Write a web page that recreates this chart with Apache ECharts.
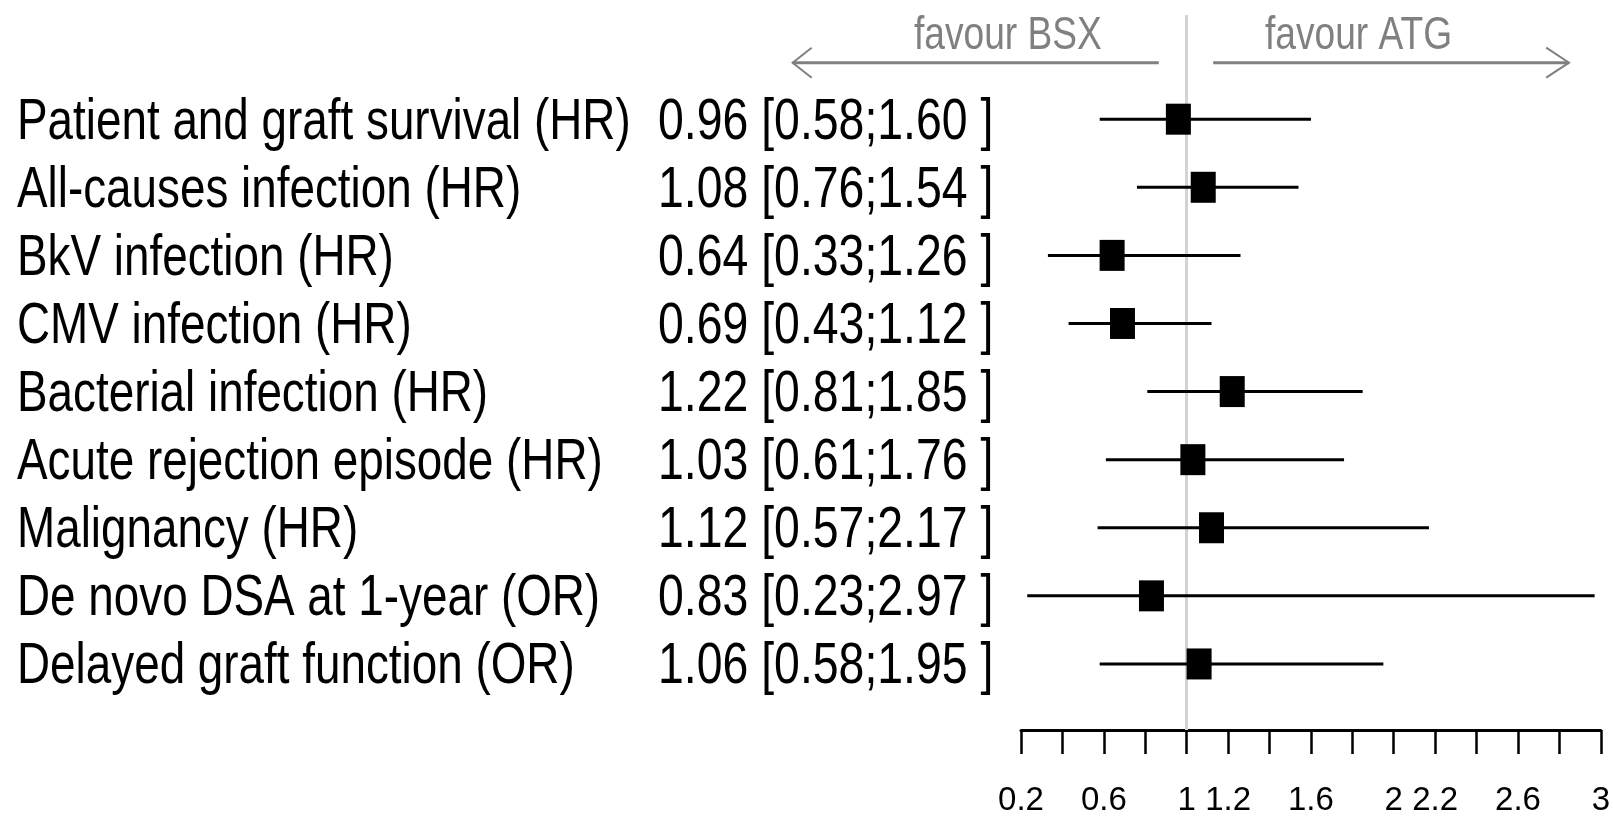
<!DOCTYPE html>
<html>
<head>
<meta charset="utf-8">
<script src="https://cdn.jsdelivr.net/npm/echarts@6/dist/echarts.min.js"></script>
<style>
  html, body { margin: 0; padding: 0; background: #ffffff; }
  #chart { width: 1613px; height: 817px; }
</style>
</head>
<body>
<div id="chart"></div>
<script>
// ---- data ----
const outcomes = [
  'Patient and graft survival (HR)',
  'All-causes infection (HR)',
  'BkV infection (HR)',
  'CMV infection (HR)',
  'Bacterial infection (HR)',
  'Acute rejection episode (HR)',
  'Malignancy (HR)',
  'De novo DSA at 1-year (OR)',
  'Delayed graft function (OR)'
];
const estimates = [0.96, 1.08, 0.64, 0.69, 1.22, 1.03, 1.12, 0.83, 1.06];
const lowerCI   = [0.58, 0.76, 0.33, 0.43, 0.81, 0.61, 0.57, 0.23, 0.58];
const upperCI   = [1.60, 1.54, 1.26, 1.12, 1.85, 1.76, 2.17, 2.97, 1.95];
const rows      = [1, 2, 3, 4, 5, 6, 7, 8, 9];
const tickLabels = ['0.2', '0.6', '1', '1.2', '1.6', '2', '2.2', '2.6', '3'];
const nullEffect = 1;
const favourLeft = 'favour BSX';
const favourRight = 'favour ATG';

// ---- styling ----
const FONT = '"Liberation Sans", Arial, sans-serif';
const SQUISH_LABEL = 0.79;
const SQUISH_EST = 0.80;
const estText = estimates.map((e, i) =>
  e.toFixed(2) + ' [' + lowerCI[i].toFixed(2) + ';' + upperCI[i].toFixed(2) + ' ]');

const chart = echarts.init(document.getElementById('chart'), null, { renderer: 'canvas' });

const option = {
  backgroundColor: '#ffffff',
  animation: false,
  grid: { left: 1021, right: 11, top: 15, bottom: 79.3, containLabel: false },
  xAxis: {
    type: 'value',
    min: 0.2, max: 3, interval: 0.2,
    splitLine: { show: false },
    axisLine: { show: true, onZero: false, lineStyle: { color: '#000', width: 3 } },
    axisTick: { show: true, length: 24, lineStyle: { color: '#000', width: 2.5 } },
    axisLabel: {
      show: true, margin: 54, color: '#000', fontSize: 33, fontFamily: FONT,
      showMinLabel: true, showMaxLabel: true, hideOverlap: false,
      formatter: function (v) {
        const s = String(Math.round(v * 10) / 10);
        return tickLabels.indexOf(s) >= 0 ? s : '';
      }
    }
  },
  yAxis: {
    type: 'value', inverse: true, min: -0.53, max: 9.97,
    show: false, splitLine: { show: false }
  },
  series: [
    {
      type: 'scatter',
      name: 'reference',
      z: 0,
      silent: true,
      symbolSize: 0,
      data: [[nullEffect, rows[0]]],
      markLine: {
        silent: true, symbol: 'none', animation: false,
        label: { show: false },
        lineStyle: { color: '#d3d3d3', width: 3, type: 'solid', opacity: 1 },
        data: [{ xAxis: nullEffect }]
      }
    },
    {
      type: 'custom',
      name: 'text',
      z: 1,
      clip: false,
      silent: true,
      encode: { x: 0, y: 1 },
      data: rows.map((r, i) => [estimates[i], r]),
      renderItem: function (params, api) {
        const i = params.dataIndex;
        const y = api.coord([1, api.value(1)])[1] + 3.5;
        return {
          type: 'group',
          children: [
            { type: 'text', x: 17, y: y, scaleX: SQUISH_LABEL,
              style: { text: outcomes[i], fill: '#000', fontSize: 58, fontFamily: FONT,
                       align: 'left', verticalAlign: 'middle' } },
            { type: 'text', x: 658, y: y, scaleX: SQUISH_EST,
              style: { text: estText[i], fill: '#000', fontSize: 58, fontFamily: FONT,
                       align: 'left', verticalAlign: 'middle' } }
          ]
        };
      }
    },
    {
      type: 'custom',
      name: 'ci',
      z: 5,
      clip: false,
      silent: true,
      encode: { x: [0, 1], y: 2 },
      data: rows.map((r, i) => [lowerCI[i], upperCI[i], r]),
      renderItem: function (params, api) {
        const p1 = api.coord([api.value(0), api.value(2)]);
        const p2 = api.coord([api.value(1), api.value(2)]);
        return {
          type: 'line',
          shape: { x1: p1[0], y1: p1[1], x2: p2[0], y2: p2[1] },
          style: { stroke: '#000', lineWidth: 3 }
        };
      }
    },
    {
      type: 'scatter',
      name: 'estimate',
      z: 6,
      silent: true,
      symbol: 'rect',
      symbolSize: [25, 31],
      itemStyle: { color: '#000', opacity: 1 },
      data: rows.map((r, i) => [estimates[i], r])
    }
  ],
  graphic: [
    { type: 'polyline', silent: true, shape: { points: [[792.6, 62.7], [1158.8, 62.7]] },
      style: { stroke: '#808080', lineWidth: 3, fill: null } },
    { type: 'polyline', silent: true, shape: { points: [[811.7, 47.7], [792.6, 62.7], [811.7, 77.7]] },
      style: { stroke: '#808080', lineWidth: 2, fill: null } },
    { type: 'polyline', silent: true, shape: { points: [[1213.2, 62.7], [1569, 62.7]] },
      style: { stroke: '#808080', lineWidth: 3, fill: null } },
    { type: 'polyline', silent: true, shape: { points: [[1546.2, 47.7], [1569, 62.7], [1546.2, 77.7]] },
      style: { stroke: '#808080', lineWidth: 2, fill: null } },
    { type: 'text', silent: true, x: 914, y: 36.5, scaleX: SQUISH_LABEL,
      style: { text: favourLeft, fill: '#808080', fontSize: 47, fontFamily: FONT,
               align: 'left', verticalAlign: 'middle' } },
    { type: 'text', silent: true, x: 1265, y: 36.5, scaleX: SQUISH_LABEL,
      style: { text: favourRight, fill: '#808080', fontSize: 47, fontFamily: FONT,
               align: 'left', verticalAlign: 'middle' } }
  ]
};
chart.setOption(option);
</script>
</body>
</html>
